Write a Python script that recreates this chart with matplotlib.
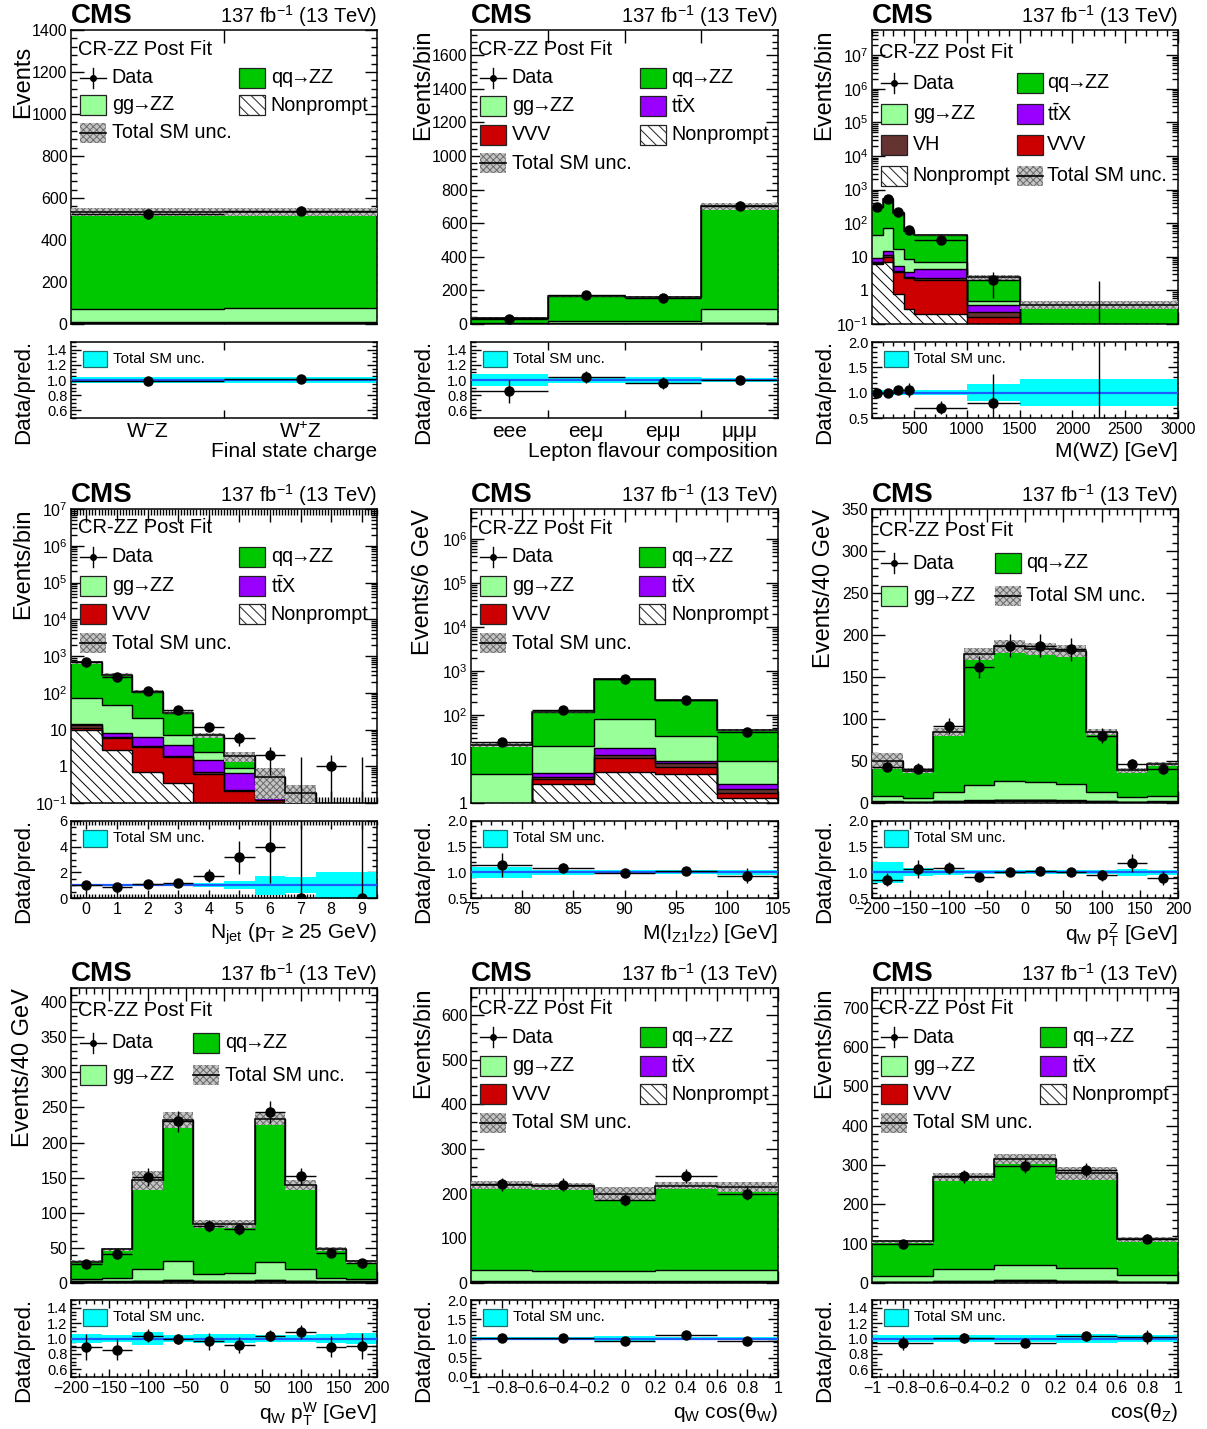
import numpy as np
import matplotlib
matplotlib.use('Agg')
import matplotlib.pyplot as plt
from matplotlib.patches import Rectangle
from matplotlib.lines import Line2D
from matplotlib import ticker

plt.rcParams.update({
    'font.family': ['Liberation Sans', 'DejaVu Sans'],
    'mathtext.fontset': 'custom',
    'mathtext.rm': 'Liberation Sans',
    'mathtext.it': 'Liberation Sans:italic',
    'mathtext.bf': 'Liberation Sans:bold',
    'hatch.linewidth': 0.7,
    'axes.linewidth': 1.1,
    'axes.unicode_minus': True,
})

# ------------------------------------------------------------------ data
# Final state charge
charge_labels = [r'W$^{-}$Z', r'W$^{+}$Z']
charge_edges = [0, 1, 2]
charge_data = [525, 540]
charge_nonprompt = [5, 5]
charge_vvv = [1, 1]
charge_vh = [0.5, 0.5]
charge_ttx = [2, 2]
charge_gg = [65, 67]
charge_qq = [459.5, 459.5]
charge_relunc = [0.035, 0.035]

# Lepton flavour composition
flav_labels = ['eee', 'ee\u03bc', 'e\u03bc\u03bc', '\u03bc\u03bc\u03bc']
flav_edges = [0, 1, 2, 3, 4]
flav_data = [31, 170, 153, 704]
flav_nonprompt = [1, 1.5, 1.5, 3]
flav_vvv = [0.3, 0.5, 0.5, 1]
flav_vh = [0.2, 0.3, 0.3, 0.5]
flav_ttx = [0.5, 1, 1, 2]
flav_gg = [5, 16, 15, 80]
flav_qq = [29.5, 144.7, 141.7, 615.5]
flav_relunc = [0.08, 0.035, 0.035, 0.03]

# M(WZ)
mwz_edges = [100, 200, 300, 400, 500, 1000, 1500, 3000]
mwz_data = [300, 540, 212, 62, 31, 2, 0]
mwz_nonprompt = [6.3, 7.2, 0.8, 0.28, 0.2, 0, 0]
mwz_vvv = [0.3, 2.5, 2.7, 2.1, 1.9, 0.16, 0.01]
mwz_vh = [0.5, 1.5, 0.3, 0.1, 0.2, 0.07, 0.005]
mwz_ttx = [2.0, 3.3, 1.7, 1.0, 2.1, 0.14, 0.01]
mwz_gg = [34.9, 59.5, 12, 5.2, 2.8, 0.1, 0.02]
mwz_qq = [256, 466, 182.5, 50.3, 36.8, 2.03, 0.335]
mwz_relunc = [0.05, 0.05, 0.05, 0.05, 0.05, 0.17, 0.27]

# N_jet
njet_edges = [-0.5, 0.5, 1.5, 2.5, 3.5, 4.5, 5.5, 6.5, 7.5, 8.5, 9.5]
njet_data = [675, 270, 115, 33, 12, 6, 2, 0, 1, 0]
njet_nonprompt = [9.5, 2.7, 0.68, 0.35, 0, 0, 0, 0, 0, 0]
njet_vvv = [1.5, 3.2, 2.62, 1.4, 0.6, 0.21, 0.12, 0, 0, 0]
njet_vh = [2.0, 0.3, 0.3, 0.2, 0.08, 0.02, 0, 0, 0, 0]
njet_ttx = [1.5, 1.8, 2.7, 1.75, 0.82, 0.43, 0.18, 0.03, 0, 0]
njet_gg = [57.5, 38, 13.7, 3.5, 0.9, 0.24, 0.03, 0.01, 0, 0]
njet_qq = [598, 264, 87, 21.8, 4.5, 1.0, 0.17, 0.15, 0, 0.02]
njet_relunc = [0.1, 0.1, 0.1, 0.1, 0.15, 0.3, 0.75, 0.6, 1.05, 1.05]

# M(l_Z1 l_Z2)
mll_edges = [75, 81, 87, 93, 99, 105]
mll_data = [24, 127, 648, 222, 42]
mll_nonprompt = [0.3, 2.75, 5.0, 4.6, 1.3]
mll_vvv = [0.2, 0.85, 5.5, 2.0, 0.4]
mll_vh = [0.1, 0.3, 2.0, 1.4, 0.4]
mll_ttx = [0.2, 0.9, 5.3, 1.2, 0.6]
mll_gg = [3.8, 14.6, 65.2, 23.8, 6.1]
mll_qq = [16.4, 97.6, 577, 182, 36.2]
mll_relunc = [0.11, 0.05, 0.04, 0.04, 0.05]

# q_W pT^Z
ptz_edges = [-200, -160, -120, -80, -40, 0, 40, 80, 120, 160, 200]
ptz_data = [43, 41, 92, 162, 187, 187, 183, 80, 46, 41]
ptz_nonprompt = [1, 0.8, 1.2, 1.5, 2.5, 2.5, 2, 1.2, 0.8, 1]
ptz_vvv = [0.4, 0.3, 0.5, 0.6, 0.6, 0.6, 0.6, 0.5, 0.3, 0.4]
ptz_vh = [0.2, 0.2, 0.2, 0.2, 0.2, 0.2, 0.2, 0.2, 0.2, 0.2]
ptz_ttx = [0.4, 0.2, 0.6, 0.7, 0.7, 0.7, 0.7, 0.6, 0.2, 0.4]
ptz_gg = [6.7, 4.5, 10.2, 18.8, 21.8, 20.6, 19.5, 10.2, 5.2, 6.7]
ptz_qq = [41.3, 32.5, 71.8, 155.2, 160.7, 158.4, 157.5, 71.8, 32.3, 37.3]
ptz_relunc = [0.2, 0.08, 0.05, 0.04, 0.04, 0.04, 0.04, 0.04, 0.07, 0.05]

# q_W pT^W
ptw_edges = [-200, -160, -120, -80, -40, 0, 40, 80, 120, 160, 200]
ptw_data = [27, 41, 151, 230, 81, 77, 243, 152, 43, 28]
ptw_nonprompt = [1.5, 1.2, 2, 3, 2, 2, 3, 2, 1.2, 1.5]
ptw_vvv = [0.5, 0.5, 0.5, 0.5, 0.5, 0.5, 0.5, 0.5, 0.5, 0.5]
ptw_vh = [0.2, 0.2, 0.2, 0.2, 0.2, 0.2, 0.2, 0.2, 0.2, 0.2]
ptw_ttx = [0.5, 0.5, 0.5, 0.5, 0.5, 0.5, 0.5, 0.5, 0.5, 0.5]
ptw_gg = [3.3, 5.2, 17.2, 26.6, 9.1, 11.0, 25.8, 17.2, 5.2, 3.3]
ptw_qq = [24.5, 40.4, 125.6, 201.2, 71.7, 69.8, 204, 119.6, 40.4, 25]
ptw_relunc = [0.06, 0.05, 0.09, 0.05, 0.06, 0.06, 0.04, 0.05, 0.06, 0.07]

# q_W cos(theta_W)
cosw_edges = [-1, -0.6, -0.2, 0.2, 0.6, 1]
cosw_data = [221, 220, 186, 240, 200]
cosw_nonprompt = [2, 2, 2, 2, 2]
cosw_vvv = [0.5, 0.5, 0.5, 0.5, 0.5]
cosw_vh = [0.2, 0.2, 0.2, 0.2, 0.2]
cosw_ttx = [0.8, 0.8, 0.8, 0.8, 0.8]
cosw_gg = [24.9, 23.5, 23.5, 26.5, 24.9]
cosw_qq = [191.6, 189, 173, 188, 186.6]
cosw_relunc = [0.04, 0.04, 0.07, 0.04, 0.05]

# cos(theta_Z)
cosz_edges = [-1, -0.6, -0.2, 0.2, 0.6, 1]
cosz_data = [100, 271, 298, 287, 113]
cosz_nonprompt = [1.5, 3, 5, 3.5, 2]
cosz_vvv = [0.5, 0.8, 1.2, 1, 0.5]
cosz_vh = [0.3, 0.4, 0.6, 0.5, 0.3]
cosz_ttx = [0.7, 0.8, 1.2, 1, 0.7]
cosz_gg = [14, 31.5, 37, 33, 16]
cosz_qq = [89, 232.5, 271, 240, 91.5]
cosz_relunc = [0.04, 0.04, 0.04, 0.06, 0.05]

# ------------------------------------------------------------------ style
COLORS = dict(qq='#00c800', gg='#99ff99', ttx='#9a00ff', vvv='#cc0000', vh='#663333', np='white')
ARROW = r'$\!\!\rightarrow\!\!$'
LABELS = {'data': 'Data', 'qq': 'qq' + ARROW + 'ZZ', 'gg': 'gg' + ARROW + 'ZZ',
          'ttx': r'$\mathrm{t\bar{t}X}$',
          'vvv': 'VVV', 'vh': 'VH', 'np': 'Nonprompt', 'unc': 'Total SM unc.'}
NP_HATCH = '\\\\\\'
UNC_FC, UNC_HC, UNC_HATCH = '#c4c4c4', '#6a6a6a', 'xxxxx'
CYAN = '#00ffff'
BLUE = '#1a5cff'

W, H = 1207, 1429
fig = plt.figure(figsize=(W / 100, H / 100), dpi=100)


def rect(x, ytop, w, ybot):
    return [x / W, 1 - ybot / H, w / W, (ybot - ytop) / H]


COL_X = [71, 471, 872]
COL_W = [306, 307, 306]
MAIN_Y = [(30, 324), (509, 803), (988, 1283)]
RAT_Y = [(342, 418), (821, 898), (1300, 1377)]


def gfmt(v, pos=None):
    if abs(v) < 1e-9:
        return '0'
    return ('%g' % round(v, 6)).replace('-', '\u2212')


def logfmt(v, pos=None):
    if v <= 0:
        return ''
    e = int(round(np.log10(v)))
    if e == 0:
        return '1'
    if e == 1:
        return '10'
    return r'$10^{%d}$' % e


def comps_of(p):
    return [('np', p + '_nonprompt'), ('vvv', p + '_vvv'), ('vh', p + '_vh'),
            ('ttx', p + '_ttx'), ('gg', p + '_gg'), ('qq', p + '_qq')]


G = globals()

ROWS_A = [('data', 'qq'), ('gg', 'ttx'), ('vvv', 'np'), ('unc', None)]
PANELS = [
    dict(p='charge', r=0, c=0, log=False, ylim=(0, 1400), ystep=200, ylabel='Events', ylab_y=0.945,
         xlabel='Final state charge', cats=charge_labels, rylim=(0.5, 1.5), ryticks=[0.6, 0.8, 1.0, 1.2, 1.4],
         leg=dict(cr=0.935, y0=0.838, dy=0.094, px2=0.55, tx2=0.652,
                  rows=[('data', 'qq'), ('gg', 'np'), ('unc', None)])),
    dict(p='flav', r=0, c=1, log=False, ylim=(0, 1750), ystep=200, ylabel='Events/bin', ylab_y=1.0,
         xlabel='Lepton flavour composition', cats=flav_labels, rylim=(0.5, 1.5),
         ryticks=[0.6, 0.8, 1.0, 1.2, 1.4],
         leg=dict(cr=0.935, y0=0.837, dy=0.097, px2=0.55, tx2=0.652, rows=ROWS_A)),
    dict(p='mwz', r=0, c=2, log=True, ylim=(0.1, 5.6e7), ylabel='Events/bin', ylab_y=1.0,
         xlabel='M(WZ) [GeV]', xmajor=500, xminor=100, rylim=(0.5, 2.0), ryticks=[0.5, 1.0, 1.5, 2.0],
         leg=dict(cr=0.923, y0=0.819, dy=0.105, px2=0.474, tx2=0.572,
                  rows=[('data', 'qq'), ('gg', 'ttx'), ('vh', 'vvv'), ('np', 'unc')])),
    dict(p='njet', r=1, c=0, log=True, ylim=(0.1, 1e7), ylabel='Events/bin', ylab_y=1.0,
         xlabel=r'N$_{\mathrm{jet}}$ (p$_{\mathrm{T}}$ ' + '\u2265' + ' 25 GeV)', xmajor=1, xminor=0.1,
         rylim=(0, 6), ryticks=[0, 2, 4, 6],
         leg=dict(cr=0.937, y0=0.837, dy=0.0976, px2=0.55, tx2=0.652, rows=ROWS_A)),
    dict(p='mll', r=1, c=1, log=True, ylim=(1, 4.8e6), ylabel='Events/6 GeV', ylab_y=1.0,
         xlabel=r'M(l$_{\mathrm{Z1}}$l$_{\mathrm{Z2}}$) [GeV]', xmajor=5, xminor=1,
         rylim=(0.5, 2.0), ryticks=[0.5, 1.0, 1.5, 2.0],
         leg=dict(cr=0.935, y0=0.837, dy=0.0977, px2=0.548, tx2=0.652, rows=ROWS_A)),
    dict(p='ptz', r=1, c=2, log=False, ylim=(0, 350), ystep=50, ylabel='Events/40 GeV', ylab_y=1.0,
         xlabel=r'q$_{\mathrm{W}}$ p$_{\mathrm{T}}^{\mathrm{Z}}$ [GeV]', xmajor=50, xminor=10,
         rylim=(0.5, 2.0), ryticks=[0.5, 1.0, 1.5, 2.0],
         leg=dict(cr=0.926, y0=0.816, dy=0.111, px2=0.403, tx2=0.504,
                  rows=[('data', 'qq'), ('gg', 'unc')])),
    dict(p='ptw', r=2, c=0, log=False, ylim=(0, 420), ystep=50, ylabel='Events/40 GeV', ylab_y=1.0,
         xlabel=r'q$_{\mathrm{W}}$ p$_{\mathrm{T}}^{\mathrm{W}}$ [GeV]', xmajor=50, xminor=10,
         rylim=(0.5, 1.5), ryticks=[0.6, 0.8, 1.0, 1.2, 1.4],
         leg=dict(cr=0.924, y0=0.815, dy=0.11, px2=0.40, tx2=0.503,
                  rows=[('data', 'qq'), ('gg', 'unc')])),
    dict(p='cosw', r=2, c=1, log=False, ylim=(0, 660), ystep=100, ylabel='Events/bin', ylab_y=1.0,
         xlabel=r'q$_{\mathrm{W}}$ cos(' + '\u03b8' + r'$_{\mathrm{W}}$)', xmajor=0.2, xminor=0.05,
         rylim=(0.0, 2.0), ryticks=[0.0, 0.5, 1.0, 1.5, 2.0],
         leg=dict(cr=0.932, y0=0.833, dy=0.0965, px2=0.55, tx2=0.652, rows=ROWS_A)),
    dict(p='cosz', r=2, c=2, log=False, ylim=(0, 750), ystep=100, ylabel='Events/bin', ylab_y=1.0,
         xlabel='cos(' + '\u03b8' + r'$_{\mathrm{Z}}$)', xmajor=0.2, xminor=0.05,
         rylim=(0.5, 1.5), ryticks=[0.6, 0.8, 1.0, 1.2, 1.4],
         leg=dict(cr=0.932, y0=0.833, dy=0.0965, px2=0.549, tx2=0.653, rows=ROWS_A)),
]

PW, PH = 0.085, 0.068  # legend icon size (axes fraction)


def draw_icon(ax, key, x, y):
    kw = dict(transform=ax.transAxes, clip_on=False, zorder=20)
    if key == 'data':
        ax.add_line(Line2D([x, x + PW], [y, y], color='black', lw=1, **kw))
        ax.add_line(Line2D([x + PW / 2, x + PW / 2], [y - PH / 2, y + PH / 2], color='black', lw=1, **kw))
        ax.add_line(Line2D([x + PW / 2], [y], marker='o', ms=4, color='black', **kw))
    elif key == 'unc':
        ax.add_patch(Rectangle((x, y - PH / 2), PW, PH, facecolor=UNC_FC, edgecolor=UNC_HC,
                               hatch=UNC_HATCH, lw=0, **kw))
        ax.add_line(Line2D([x, x + PW], [y, y], color='black', lw=1.2, **kw))
    else:
        hatch = NP_HATCH if key == 'np' else None
        ax.add_patch(Rectangle((x, y - PH / 2), PW, PH, facecolor=COLORS[key],
                               edgecolor='#222222', hatch=hatch, lw=0.9, **kw))


def draw_legend(ax, cfg):
    ax.text(0.022, cfg['cr'], 'CR-ZZ Post Fit', transform=ax.transAxes, fontsize=14.5,
            ha='left', va='center', zorder=20)
    for i, row in enumerate(cfg['rows']):
        y = cfg['y0'] - i * cfg['dy']
        for j, key in enumerate(row):
            if key is None:
                continue
            px = 0.029 if j == 0 else cfg['px2']
            tx = 0.133 if j == 0 else cfg['tx2']
            draw_icon(ax, key, px, y)
            ax.text(tx, y, LABELS[key], transform=ax.transAxes, fontsize=14.2,
                    ha='left', va='center', zorder=20)


for P in PANELS:
    p = P['p']
    r, c = P['r'], P['c']
    ax = fig.add_axes(rect(COL_X[c], MAIN_Y[r][0], COL_W[c], MAIN_Y[r][1]))
    rax = fig.add_axes(rect(COL_X[c], RAT_Y[r][0], COL_W[c], RAT_Y[r][1]))

    edges = np.asarray(G[p + '_edges'], float)
    data = np.asarray(G[p + '_data'], float)
    relunc = np.asarray(G[p + '_relunc'], float)
    centers = 0.5 * (edges[1:] + edges[:-1])
    hw = 0.5 * (edges[1:] - edges[:-1])
    log = P['log']
    if log:
        ax.set_yscale('log')
    floor = P['ylim'][0] * 1e-3 if log else 0.0

    # stacked backgrounds
    cum = np.zeros(len(data))
    for key, name in comps_of(p):
        vals = np.asarray(G[name], float)
        top = cum + vals
        lo = np.maximum(cum, floor) if log else cum
        hi = np.maximum(top, floor) if log else top
        if key == 'np':
            ax.stairs(hi, edges, baseline=lo, fill=True, facecolor='white', edgecolor='black',
                      hatch=NP_HATCH, linewidth=0, zorder=2)
        else:
            ax.stairs(hi, edges, baseline=lo, fill=True, facecolor=COLORS[key], edgecolor='none',
                      linewidth=0, zorder=2)
        ax.stairs(hi, edges, baseline=None, fill=False, color='black', linewidth=1.0, zorder=3)
        cum = top
    total = cum

    # total uncertainty band
    up = total * (1 + relunc)
    dn = total * (1 - relunc)
    if log:
        up = np.maximum(up, floor)
        dn = np.maximum(dn, floor)
    ax.stairs(up, edges, baseline=dn, fill=True, facecolor=UNC_FC, edgecolor=UNC_HC,
              hatch=UNC_HATCH, linewidth=0, zorder=4)
    ax.stairs(np.maximum(total, floor) if log else total, edges, baseline=None, fill=False,
              color='black', linewidth=1.1, zorder=5)

    # data
    err_dn = np.sqrt(data)
    err_up = np.where(data == 0, 1.841, np.sqrt(data))
    m = data > 0
    ax.errorbar(centers[m], data[m], xerr=hw[m], yerr=[err_dn[m], err_up[m]], fmt='o', color='black',
                ms=6.5, lw=1, capsize=0, zorder=6)
    if log and np.any(~m):
        ax.vlines(centers[~m], floor, err_up[~m], color='black', lw=1, zorder=6)

    # ratio
    rax.stairs(1 + relunc, edges, baseline=1 - relunc, fill=True, facecolor=CYAN, edgecolor='none',
               linewidth=0, zorder=2)
    rax.axhline(1.0, color=BLUE, lw=1.6, zorder=3)
    v = total > 0
    ratio = np.where(v, data / np.where(v, total, 1), np.nan)
    rdn = np.where(v, err_dn / np.where(v, total, 1), np.nan)
    rup = np.where(v, err_up / np.where(v, total, 1), np.nan)
    rax.errorbar(centers[v], ratio[v], xerr=hw[v], yerr=[rdn[v], rup[v]], fmt='o', color='black',
                 ms=6.5, lw=1, capsize=0, zorder=6)

    # limits
    for a in (ax, rax):
        a.set_xlim(edges[0], edges[-1])
    ax.set_ylim(*P['ylim'])
    rax.set_ylim(*P['rylim'])

    # ticks
    for a in (ax, rax):
        a.tick_params(which='both', direction='in', top=True, right=True, width=1.0)
    ax.tick_params(axis='y', which='major', length=9, labelsize=11.5, pad=2.5)
    ax.tick_params(axis='y', which='minor', length=4.5)
    ax.tick_params(axis='x', which='major', length=9, labelbottom=False)
    ax.tick_params(axis='x', which='minor', length=4.5)
    rax.tick_params(axis='y', which='major', length=7, labelsize=10.5, pad=2.5)
    rax.tick_params(axis='y', which='minor', length=3.5)
    rax.tick_params(axis='x', which='major', length=6, labelsize=11.5, pad=3)
    rax.tick_params(axis='x', which='minor', length=3)

    if log:
        e_lo = int(np.ceil(np.log10(P['ylim'][0]) - 1e-9))
        e_hi = int(np.floor(np.log10(P['ylim'][1]) + 1e-9))
        majors = [10.0 ** e for e in range(e_lo, e_hi + 1)]
        minors = [k * 10.0 ** e for e in range(e_lo - 1, e_hi + 1) for k in range(2, 10)
                  if P['ylim'][0] < k * 10.0 ** e < P['ylim'][1]]
        ax.yaxis.set_major_locator(ticker.FixedLocator(majors))
        ax.yaxis.set_minor_locator(ticker.FixedLocator(minors))
        ax.yaxis.set_major_formatter(ticker.FuncFormatter(logfmt))
        ax.yaxis.set_minor_formatter(ticker.NullFormatter())
    else:
        ystep = P['ystep']
        ax.yaxis.set_major_locator(ticker.FixedLocator(
            np.arange(0, P['ylim'][1] + 1e-6, ystep)))
        ax.yaxis.set_minor_locator(ticker.AutoMinorLocator(5))
        ax.yaxis.set_major_formatter(ticker.FuncFormatter(gfmt))

    rax.yaxis.set_major_locator(ticker.FixedLocator(P['ryticks']))
    rstep = P['ryticks'][1] - P['ryticks'][0]
    rax.yaxis.set_minor_locator(ticker.MultipleLocator(rstep / (4 if abs(rstep - 0.2) < 1e-6 or rstep == 2 else 5)))
    if P['rylim'][1] > 5:
        rax.yaxis.set_major_formatter(ticker.FuncFormatter(lambda v, pos: '%d' % round(v)))
    else:
        rax.yaxis.set_major_formatter(ticker.FuncFormatter(lambda v, pos: '%.1f' % v))

    if 'cats' in P:
        ax.xaxis.set_major_locator(ticker.FixedLocator(edges[1:-1]))
        ax.xaxis.set_minor_locator(ticker.NullLocator())
        rax.xaxis.set_major_locator(ticker.FixedLocator(centers))
        rax.set_xticklabels(P['cats'])
        rax.tick_params(axis='x', which='major', length=0, labelsize=15, pad=3)
        rax.xaxis.set_minor_locator(ticker.FixedLocator(edges[1:-1]))
        rax.tick_params(axis='x', which='minor', length=6)
    else:
        xm = P['xmajor']
        first = np.ceil(edges[0] / xm - 1e-9) * xm
        xt = np.arange(first, edges[-1] + 1e-9, xm)
        for a in (ax, rax):
            a.xaxis.set_major_locator(ticker.FixedLocator(xt))
            a.xaxis.set_minor_locator(ticker.MultipleLocator(P['xminor']))
        rax.xaxis.set_major_formatter(ticker.FuncFormatter(gfmt))

    # labels
    ax.set_ylabel(P['ylabel'], fontsize=17, loc='top')
    ax.yaxis.set_label_coords(-0.12, P['ylab_y'])
    rax.set_ylabel('Data/pred.', fontsize=16, loc='top')
    rax.yaxis.set_label_coords(-0.12, 1.03)
    rax.set_xlabel(P['xlabel'], fontsize=15, loc='right')
    rax.xaxis.set_label_coords(1.0, -0.31)

    # header
    ax.text(0.0, 1.025, 'CMS', transform=ax.transAxes, fontsize=20, fontweight='bold',
            ha='left', va='baseline')
    ax.text(1.0, 1.025, r'137 fb$^{-1}$ (13 TeV)', transform=ax.transAxes, fontsize=14.5,
            ha='right', va='baseline')

    # legends
    draw_legend(ax, P['leg'])
    rax.add_patch(Rectangle((0.04, 0.776 - 0.11), 0.078, 0.22, transform=rax.transAxes,
                            facecolor=CYAN, edgecolor='#1f6f6f', lw=0.9, zorder=20))
    rax.text(0.138, 0.776, 'Total SM unc.', transform=rax.transAxes, fontsize=10.9,
             ha='left', va='center', zorder=20)

fig.savefig('out.png', dpi=100)
